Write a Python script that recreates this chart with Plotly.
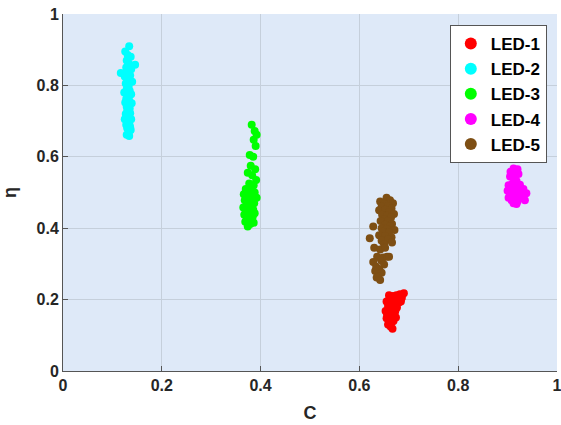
import plotly.graph_objects as go

led1_x = [0.690, 0.682, 0.675, 0.668, 0.660, 0.686, 0.678, 0.670, 0.663, 0.655, 0.680, 0.672, 0.665, 0.658,
          0.676, 0.668, 0.660, 0.653, 0.672, 0.664, 0.657, 0.670, 0.662, 0.655, 0.668, 0.660, 0.665, 0.658,
          0.663, 0.667, 0.673, 0.684, 0.661, 0.669, 0.656, 0.674]
led1_y = [0.218, 0.215, 0.212, 0.210, 0.212, 0.205, 0.203, 0.200, 0.198, 0.195, 0.192, 0.188, 0.185, 0.182,
          0.178, 0.175, 0.172, 0.168, 0.165, 0.162, 0.158, 0.155, 0.150, 0.148, 0.145, 0.140, 0.135, 0.130,
          0.125, 0.118, 0.170, 0.195, 0.205, 0.140, 0.160, 0.150]

led2_x = [0.134, 0.126, 0.131, 0.137, 0.129, 0.146, 0.133, 0.117, 0.128, 0.138, 0.131, 0.125, 0.136, 0.130,
          0.127, 0.140, 0.133, 0.129, 0.135, 0.124, 0.138, 0.131, 0.128, 0.134, 0.126, 0.139, 0.132, 0.129,
          0.135, 0.130, 0.127, 0.136, 0.133, 0.125, 0.138, 0.131, 0.128, 0.135, 0.130, 0.137, 0.133, 0.129,
          0.134, 0.131, 0.136]
led2_y = [0.910, 0.895, 0.885, 0.880, 0.870, 0.858, 0.862, 0.835, 0.850, 0.845, 0.838, 0.825, 0.828, 0.815,
          0.805, 0.810, 0.798, 0.790, 0.785, 0.780, 0.775, 0.770, 0.762, 0.758, 0.752, 0.750, 0.745, 0.740,
          0.735, 0.728, 0.720, 0.722, 0.712, 0.705, 0.705, 0.698, 0.690, 0.688, 0.680, 0.675, 0.668, 0.662,
          0.658, 0.700, 0.682]

led3_x = [0.382, 0.388, 0.392, 0.386, 0.390, 0.378, 0.385, 0.380, 0.389, 0.374, 0.383, 0.391, 0.377, 0.386,
          0.370, 0.381, 0.388, 0.366, 0.375, 0.384, 0.392, 0.368, 0.379, 0.387, 0.372, 0.382, 0.365, 0.376,
          0.385, 0.370, 0.380, 0.388, 0.367, 0.378, 0.384, 0.373, 0.381, 0.376, 0.369, 0.379, 0.386, 0.374,
          0.383, 0.371, 0.377]
led3_y = [0.690, 0.672, 0.662, 0.648, 0.630, 0.605, 0.600, 0.575, 0.565, 0.555, 0.548, 0.535, 0.525, 0.520,
          0.510, 0.508, 0.500, 0.495, 0.492, 0.488, 0.485, 0.478, 0.475, 0.470, 0.465, 0.462, 0.458, 0.455,
          0.452, 0.448, 0.445, 0.442, 0.438, 0.435, 0.432, 0.428, 0.425, 0.420, 0.418, 0.412, 0.415, 0.405,
          0.435, 0.460, 0.480]

led4_x = [0.912, 0.920, 0.906, 0.916, 0.910, 0.922, 0.914, 0.905, 0.918, 0.910, 0.902, 0.925, 0.915, 0.908,
          0.932, 0.920, 0.900, 0.912, 0.928, 0.905, 0.918, 0.938, 0.910, 0.925, 0.915, 0.902, 0.930, 0.908,
          0.920, 0.912, 0.935, 0.918]
led4_y = [0.567, 0.565, 0.558, 0.555, 0.548, 0.552, 0.540, 0.545, 0.532, 0.525, 0.520, 0.522, 0.515, 0.512,
          0.510, 0.505, 0.505, 0.500, 0.500, 0.495, 0.495, 0.498, 0.488, 0.490, 0.482, 0.485, 0.485, 0.478,
          0.475, 0.470, 0.478, 0.468]

led5_x = [0.655, 0.642, 0.662, 0.650, 0.668, 0.645, 0.658, 0.665, 0.640, 0.652, 0.660, 0.670, 0.646, 0.656,
          0.664, 0.650, 0.643, 0.658, 0.666, 0.628, 0.652, 0.662, 0.645, 0.671, 0.655, 0.648, 0.660, 0.621,
          0.640, 0.652, 0.665, 0.645, 0.658, 0.650, 0.666, 0.630, 0.642, 0.652, 0.636, 0.648, 0.628, 0.644,
          0.656, 0.634, 0.650, 0.640, 0.632, 0.645, 0.638, 0.642, 0.660, 0.635]
led5_y = [0.485, 0.475, 0.478, 0.468, 0.470, 0.460, 0.462, 0.455, 0.450, 0.452, 0.445, 0.440, 0.438, 0.435,
          0.430, 0.425, 0.420, 0.420, 0.412, 0.405, 0.410, 0.405, 0.400, 0.395, 0.398, 0.390, 0.388, 0.372,
          0.380, 0.378, 0.375, 0.365, 0.368, 0.355, 0.360, 0.345, 0.340, 0.345, 0.320, 0.318, 0.305, 0.310,
          0.320, 0.292, 0.298, 0.285, 0.280, 0.275, 0.265, 0.255, 0.320, 0.262]

series = [("LED-1", led1_x, led1_y, "#FF0000"),
          ("LED-2", led2_x, led2_y, "#00FFFF"),
          ("LED-3", led3_x, led3_y, "#00FF00"),
          ("LED-4", led4_x, led4_y, "#FF00FF"),
          ("LED-5", led5_x, led5_y, "#7E4F14")]

fig = go.Figure()
for name, xs, ys, col in series:
    fig.add_trace(go.Scatter(x=xs, y=ys, mode="markers", name=name,
                             marker=dict(color=col, size=8, line=dict(width=0))))

font = "Arial, Liberation Sans, sans-serif"
axis_common = dict(range=[0, 1], dtick=0.2, tick0=0, showgrid=True, gridcolor="#C5CFDB",
                   gridwidth=1, zeroline=False, showline=True, linecolor="#555555", linewidth=1,
                   ticks="inside", ticklen=5, tickcolor="#555555", automargin=False,
                   ticklabeloverflow="allow",
                   tickfont=dict(family=font, size=16, color="#262626", weight="bold"))
fig.update_xaxes(**axis_common,
                 title=dict(text="<b>C</b>", font=dict(family=font, size=18, color="#262626"), standoff=13))
fig.update_yaxes(**axis_common,
                 title=dict(text="<b>η</b>", font=dict(family=font, size=18, color="#262626"), standoff=22))
fig.update_layout(
    width=561, height=425,
    margin=dict(l=63, r=4, t=14, b=54),
    plot_bgcolor="#DEE9F8", paper_bgcolor="white",
    font=dict(family=font, size=16, color="#262626"),
    legend=dict(x=0.783, y=0.969, xanchor="left", yanchor="top",
                bgcolor="white", bordercolor="#555555", borderwidth=1,
                font=dict(family=font, size=17, color="black", weight="bold"),
                itemsizing="constant", tracegroupgap=0),
)
fig.write_html("out.html", config={"displayModeBar": False},
               post_script="document.body.style.margin='0';document.body.style.overflow='hidden';")
